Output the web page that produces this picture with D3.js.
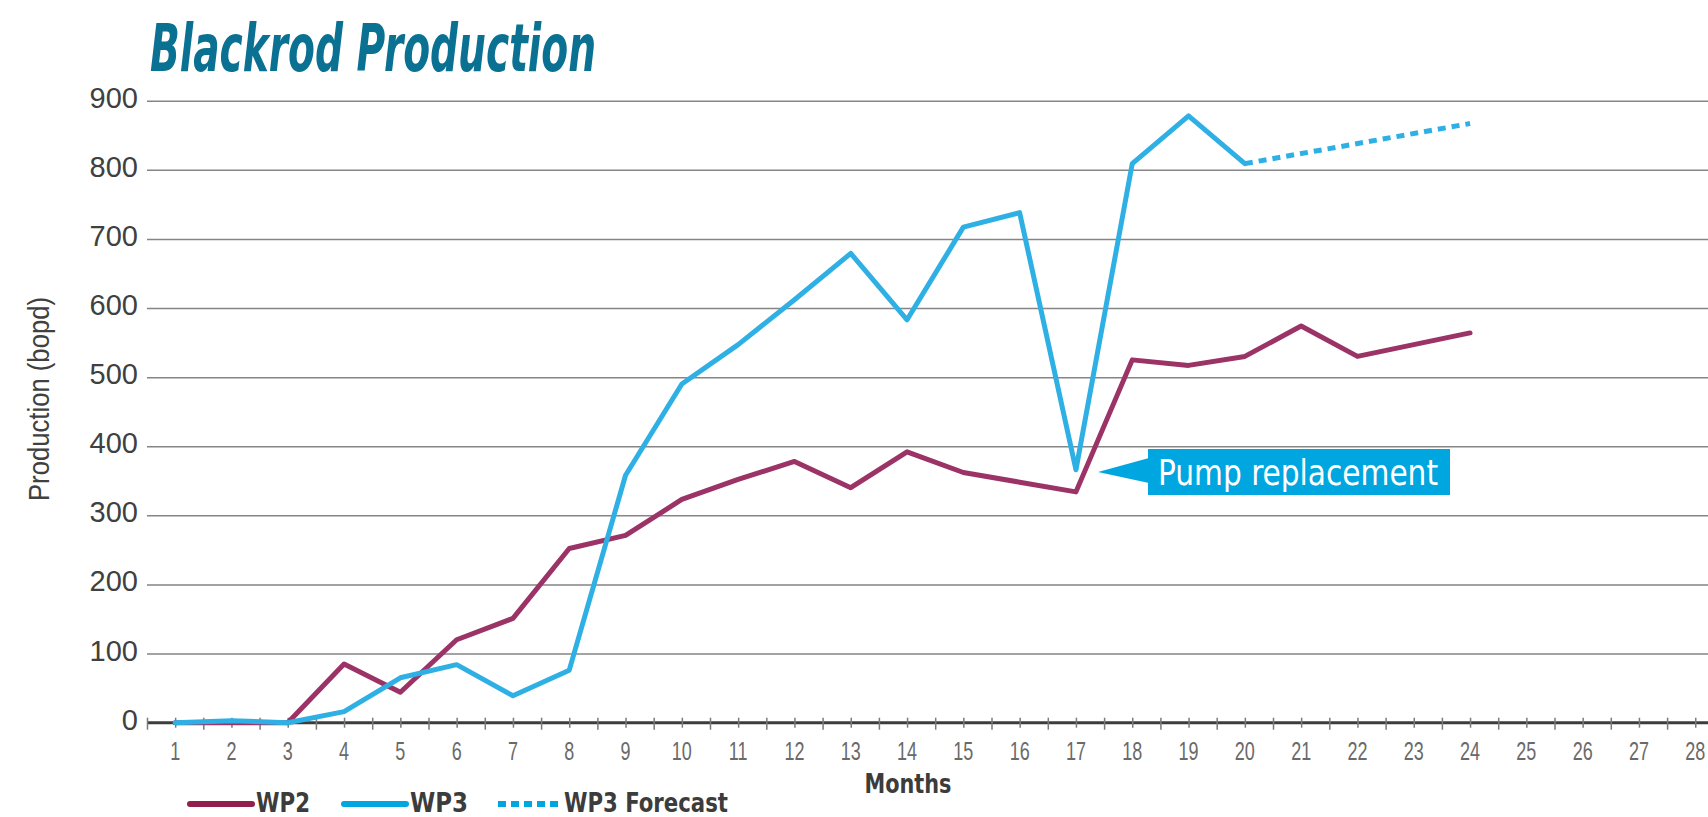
<!DOCTYPE html>
<html>
<head>
<meta charset="utf-8">
<script type="text/javascript" src="https://cdn.jsdelivr.net/npm/d3@7/dist/d3.min.js"></script>
<style>
    body { margin: 0; background: #fff; }
    svg text { font-family: 'Liberation Sans', Arial, sans-serif; }
    .narrow { font-family: 'Liberation Sans Narrow', 'DejaVu Sans Condensed', 'Arial Narrow', sans-serif !important; }
</style>
</head>
<body>
<svg id="chart" width="1708" height="817"></svg>
<script type="text/javascript">
    // data
    var months = d3.range(1, 29);
    var yTicks = [0, 100, 200, 300, 400, 500, 600, 700, 800, 900];
    var wp2Months = [1, 2, 3, 4, 5, 6, 7, 8, 9, 10, 11, 12, 13, 14, 15, 16, 17, 18, 19, 20, 21, 22, 23, 24];
    var wp2Values = [0, 0, 0, 85, 44, 120, 151, 252, 271, 323, 352, 378, 340, 392, 362, 348, 334, 525, 517, 530, 574, 530, 547, 564];
    var wp3Months = [1, 2, 3, 4, 5, 6, 7, 8, 9, 10, 11, 12, 13, 14, 15, 16, 17, 18, 19, 20];
    var wp3Values = [0, 3, 0, 16, 65, 84, 39, 76, 358, 490, 547, 612, 679, 583, 717, 738, 366, 809, 878, 809];
    var forecastMonths = [20, 24];
    var forecastValues = [809, 867];
    var legendLabels = ["WP2", "WP3", "WP3 Forecast"];

    function drawChart() {
        var svg = d3.select("#chart");
        var plotLeft = 147, plotRight = 1723.4, plotTop = 100.7, plotBottom = 722.7;

        // one band per month, points sit in the middle of each band
        var x = d3.scaleLinear().domain([0.5, 28.5]).range([plotLeft, plotRight]);
        var y = d3.scaleLinear().domain([0, 900]).range([plotBottom, plotTop]);

        // gridlines
        svg.append("g")
            .attr("transform", "translate(" + plotLeft + ",0)")
            .call(d3.axisLeft(y).tickValues(yTicks.slice(1)).tickSize(-(1708 - plotLeft)).tickFormat(""))
            .call(function(g) { g.select(".domain").remove(); })
            .selectAll("line").attr("stroke", "#858585").attr("stroke-width", 1.5);

        // y tick labels
        svg.append("g").selectAll("text")
            .data(yTicks).enter().append("text")
            .attr("x", 138).attr("y", function(d) { return y(d) + 7; })
            .attr("text-anchor", "end")
            .attr("font-size", 29).attr("fill", "#404040")
            .text(function(d) { return d; });

        // x axis: ticks at band edges and centres
        var halves = d3.range(0.5, 28.51, 0.5);
        svg.append("g")
            .attr("transform", "translate(0," + plotBottom + ")")
            .call(d3.axisBottom(x).tickValues(halves).tickSizeInner(7).tickSizeOuter(0).tickFormat(""))
            .call(function(g) {
                g.select(".domain").attr("stroke", "#3c3c3c").attr("stroke-width", 3)
                    .attr("d", "M" + plotLeft + ",0H1708");
                g.selectAll(".tick line").attr("stroke", "#7a7a7a").attr("stroke-width", 1.5)
                    .attr("y1", -5).attr("y2", function(d) { return d % 1 === 0 ? 5 : 7; });
            });

        // month labels, squeezed to look condensed
        svg.append("g").selectAll("text")
            .data(months).enter().append("text")
            .attr("transform", function(d) { return "translate(" + x(d) + ",760) scale(0.72,1)"; })
            .attr("text-anchor", "middle")
            .attr("font-size", 25).attr("fill", "#6a6a6a")
            .text(function(d) { return d; });

        // titles
        svg.append("text")
            .attr("class", "narrow")
            .attr("x", 150).attr("y", 71)
            .attr("font-size", 66).attr("font-weight", "bold").attr("font-style", "italic")
            .attr("fill", "#0a7193")
            .attr("textLength", 446).attr("lengthAdjust", "spacingAndGlyphs")
            .text("Blackrod Production");

        svg.append("text")
            .attr("transform", "translate(49,399) rotate(-90)")
            .attr("text-anchor", "middle")
            .attr("font-size", 30).attr("fill", "#404040")
            .attr("textLength", 204).attr("lengthAdjust", "spacingAndGlyphs")
            .text("Production (bopd)");

        svg.append("text")
            .attr("class", "narrow")
            .attr("x", 908).attr("y", 793)
            .attr("text-anchor", "middle")
            .attr("font-size", 27).attr("font-weight", "bold").attr("fill", "#3c3c3c")
            .attr("textLength", 87).attr("lengthAdjust", "spacingAndGlyphs")
            .text("Months");

        // series
        var line = d3.line()
            .x(function(d) { return x(d[0]); })
            .y(function(d) { return y(d[1]); });

        svg.append("path")
            .datum(d3.zip(forecastMonths, forecastValues))
            .attr("fill", "none").attr("stroke", "#2eb0e5").attr("stroke-width", 5)
            .attr("stroke-dasharray", "8,6")
            .attr("d", line);

        svg.append("path")
            .datum(d3.zip(wp2Months, wp2Values))
            .attr("fill", "none").attr("stroke", "#9b3366").attr("stroke-width", 5)
            .attr("stroke-linejoin", "round").attr("stroke-linecap", "round")
            .attr("d", line);

        svg.append("path")
            .datum(d3.zip(wp3Months, wp3Values))
            .attr("fill", "none").attr("stroke", "#2eb0e5").attr("stroke-width", 5)
            .attr("stroke-linejoin", "round").attr("stroke-linecap", "round")
            .attr("d", line);

        // callout
        var callout = svg.append("g");
        callout.append("rect")
            .attr("x", 1148).attr("y", 449).attr("width", 302).attr("height", 46)
            .attr("fill", "#00a6e0");
        callout.append("path")
            .attr("d", "M1098,472L1149,458L1149,483Z")
            .attr("fill", "#00a6e0");
        callout.append("text")
            .attr("class", "narrow")
            .attr("x", 1158).attr("y", 485)
            .attr("font-size", 36).attr("fill", "#fff")
            .attr("textLength", 280).attr("lengthAdjust", "spacingAndGlyphs")
            .text("Pump replacement");

        // legend
        var legendX = [190, 344, 498];
        var legendText = [256, 410, 564];
        var legendWidth = [54, 58, 164];
        var legendColors = ["#921f4e", "#00a6e0", "#00a6e0"];
        var legend = svg.append("g");
        legendLabels.forEach(function(name, i) {
            legend.append("line")
                .attr("x1", legendX[i]).attr("x2", legendX[i] + 62)
                .attr("y1", 804).attr("y2", 804)
                .attr("stroke", legendColors[i]).attr("stroke-width", 6)
                .attr("stroke-linecap", i === 2 ? "butt" : "round")
                .attr("stroke-dasharray", i === 2 ? "8,5" : null);
            legend.append("text")
                .attr("class", "narrow")
                .attr("x", legendText[i]).attr("y", 812)
                .attr("font-size", 27).attr("font-weight", "bold").attr("fill", "#3c3c3c")
                .attr("textLength", legendWidth[i]).attr("lengthAdjust", "spacingAndGlyphs")
                .text(name);
        });
    }

    drawChart();
</script>
</body>
</html>
